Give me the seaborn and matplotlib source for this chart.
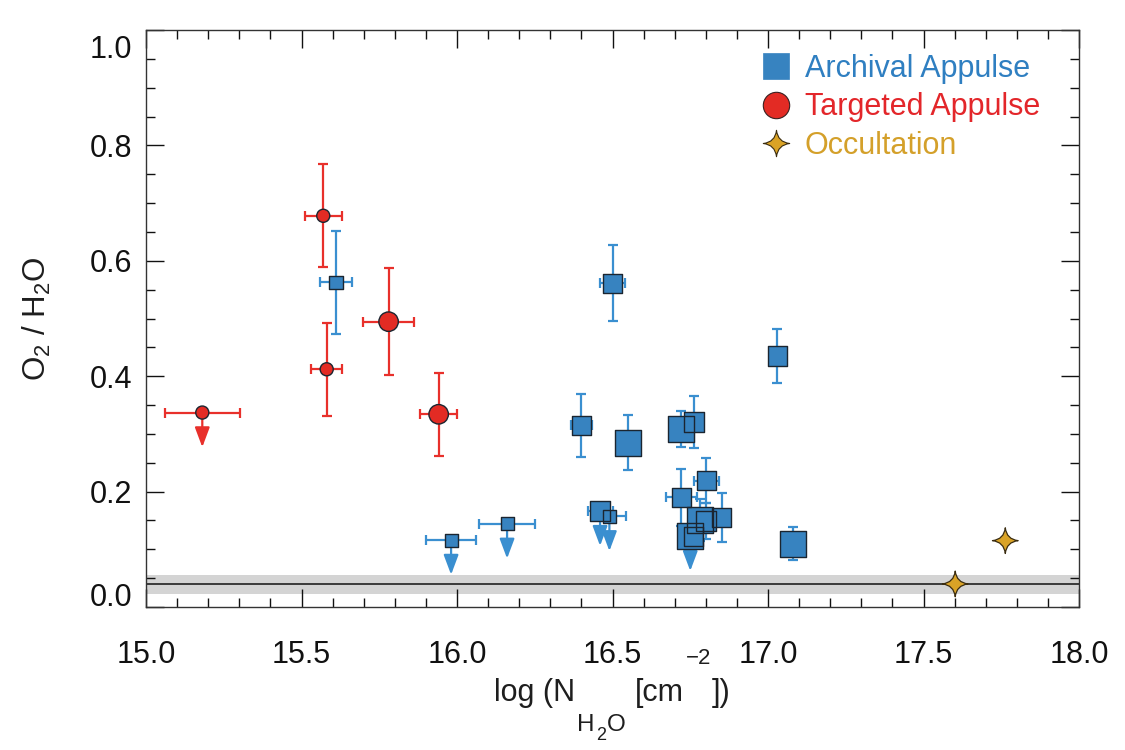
import numpy as np
import pandas as pd
import matplotlib
matplotlib.use("Agg")
import matplotlib.pyplot as plt
import seaborn as sns
from matplotlib.path import Path
from matplotlib.lines import Line2D
from matplotlib.ticker import FixedLocator, MultipleLocator, FormatStrFormatter
import matplotlib.transforms as mtransforms

# ---------------- data ----------------
arch_x = [15.611, 15.981, 16.161, 16.400, 16.460, 16.490, 16.500, 16.550, 16.721, 16.762,
          16.721, 16.802, 16.782, 16.800, 16.851, 16.750, 16.760, 17.030, 17.080]
arch_y = [0.563, 0.116, 0.144, 0.315, 0.166, 0.157, 0.561, 0.285, 0.308, 0.321,
          0.190, 0.219, 0.151, 0.149, 0.155, 0.1225, 0.1225, 0.435, 0.110]
arch_xerr = [0.05, 0.08, 0.09, 0.035, 0.04, 0.055, 0.04, 0.0, 0.0, 0.0,
             0.05, 0.04, 0.0, 0.0, 0.0, 0.0, 0.0, 0.0, 0.0]
arch_yerr = [0.089, 0.0, 0.0, 0.055, 0.0, 0.0, 0.066, 0.048, 0.031, 0.045,
             0.049, 0.039, 0.037, 0.032, 0.043, 0.0, 0.0, 0.047, 0.028]
arch_upper = [False, True, True, False, True, True, False, False, False, False,
              False, False, False, False, False, True, False, False, False]
arch_class = [1, 1, 1, 2, 2, 1, 2, 3, 3, 2, 2, 2, 3, 2, 2, 3, 2, 2, 3]

targ_x = [15.181, 15.570, 15.581, 15.780, 15.941]
targ_y = [0.337, 0.678, 0.412, 0.4945, 0.334]
targ_xerr = [0.12, 0.06, 0.05, 0.081, 0.06]
targ_yerr = [0.0, 0.089, 0.081, 0.093, 0.072]
targ_upper = [True, False, False, False, False]
targ_class = [1, 1, 1, 2, 2]

occ_x = [17.602, 17.763]
occ_y = [0.040, 0.115]
occ_class = [3, 3]

baseline_y = 0.039
baseline_band = (0.022, 0.055)

legend_labels = ["Archival Appulse", "Targeted Appulse", "Occultation"]

# ---------------- style ----------------
sns.set_theme(style="ticks")
plt.rcParams["font.family"] = ["Liberation Sans", "DejaVu Sans"]
plt.rcParams["mathtext.fontset"] = "custom"
plt.rcParams["mathtext.rm"] = "Liberation Sans"
plt.rcParams["mathtext.it"] = "Liberation Sans:italic"
plt.rcParams["mathtext.bf"] = "Liberation Sans:bold"

BLUE_FILL = "#3783c0"
BLUE_ERR = "#3a8fd0"
BLUE_TXT = "#2f7fc1"
RED_FILL = "#e32b24"
RED_ERR = "#e8302b"
RED_TXT = "#e3262a"
GOLD_FILL = "#daa326"
GOLD_TXT = "#d4a02a"
EDGE = "#1b2530"
TXT = "#1e1e1e"

size_map = {1: 9.4 ** 2, 2: 14.0 ** 2, 3: 18.7 ** 2}

# concave four-point star
c = 0.1
star_verts = [(0, 1), (c, c), (1, 0), (c, -c), (0, -1), (-c, -c), (-1, 0), (-c, c), (0, 1), (0, 1)]
star_codes = [Path.MOVETO] + [Path.CURVE3] * 8 + [Path.CLOSEPOLY]
star = Path(star_verts, star_codes)

arch = pd.DataFrame(dict(x=arch_x, y=arch_y, xerr=arch_xerr, yerr=arch_yerr,
                         upper=arch_upper, cls=arch_class))
targ = pd.DataFrame(dict(x=targ_x, y=targ_y, xerr=targ_xerr, yerr=targ_yerr,
                         upper=targ_upper, cls=targ_class))
occ = pd.DataFrame(dict(x=occ_x, y=occ_y, cls=occ_class))

fig = plt.figure(figsize=(11.25, 7.5), dpi=100)
ax = fig.add_axes([146 / 1125, 1 - 607 / 750, (1079 - 146) / 1125, (607 - 30) / 750])

# baseline band and line
ax.axhspan(*baseline_band, color="#d4d4d4", lw=0, zorder=0)
ax.axhline(baseline_y, color="#3a3a3a", lw=1.4, zorder=1)

ARROW_LEN = 0.06


def draw_group(df, fill, errc, marker):
    ax.errorbar(df["x"], df["y"], xerr=df["xerr"], yerr=df["yerr"], fmt="none",
                ecolor=errc, elinewidth=1.6, capsize=3.5, capthick=1.6, zorder=2)
    for _, r in df[df["upper"]].iterrows():
        ax.annotate("", xy=(r["x"], r["y"] - ARROW_LEN), xytext=(r["x"], r["y"]),
                    arrowprops=dict(arrowstyle="-|>,head_length=0.8,head_width=0.3",
                                    mutation_scale=15, color=errc, lw=1.6,
                                    shrinkA=0, shrinkB=0), zorder=2)
    sns.scatterplot(data=df, x="x", y="y", size="cls", sizes=size_map, marker=marker,
                    color=fill, edgecolor="none", linewidth=0, legend=False, ax=ax, zorder=3)
    sns.scatterplot(data=df, x="x", y="y", size="cls", sizes=size_map, marker=marker,
                    color=fill, facecolors="none", edgecolor=EDGE, linewidth=1.0,
                    legend=False, ax=ax, zorder=4)


draw_group(arch, BLUE_FILL, BLUE_ERR, "s")
draw_group(targ, RED_FILL, RED_ERR, "o")
sns.scatterplot(data=occ, x="x", y="y", size="cls", sizes={3: 18.5 ** 2}, marker=star,
                color=GOLD_FILL, edgecolor="#3a2c10", linewidth=0.9, legend=False,
                ax=ax, zorder=4)

# axes
ax.set_xlim(15.0, 18.0)
ax.set_ylim(0.0, 1.0)
ax.xaxis.set_major_locator(MultipleLocator(0.5))
ax.xaxis.set_minor_locator(MultipleLocator(0.1))
ax.yaxis.set_major_locator(FixedLocator([0.0, 0.2, 0.4, 0.6, 0.8, 1.0]))
ax.yaxis.set_minor_locator(MultipleLocator(0.05))
ax.xaxis.set_major_formatter(FormatStrFormatter("%.1f"))
ax.yaxis.set_major_formatter(FormatStrFormatter("%.1f"))
ax.tick_params(which="both", direction="in", top=True, right=True, color="#111111",
               width=1.0, labelsize=22, labelcolor="#111111")
ax.tick_params(which="major", length=13)
ax.tick_params(which="minor", length=6.5)
ax.tick_params(axis="x", which="major", pad=24)
ax.tick_params(axis="y", which="major", pad=10)
for s in ax.spines.values():
    s.set_color("#333333")
    s.set_linewidth(1.0)

ax.set_xlabel("")
ax.set_ylabel(r"O$_2$ / H$_2$O", fontsize=22.5, color=TXT, labelpad=26)

fig.canvas.draw()
for lab in ax.get_yticklabels():
    t = lab.get_text()
    if t == "0.0":
        lab.set_transform(lab.get_transform() +
                          mtransforms.ScaledTranslation(0, 12 / 100, fig.dpi_scale_trans))
    if t == "1.0":
        lab.set_transform(lab.get_transform() +
                          mtransforms.ScaledTranslation(0, -17 / 100, fig.dpi_scale_trans))

# x-axis label built from pieces (large, low subscripts as in the original)
renderer = fig.canvas.get_renderer()
MAIN, SUB, SUBSUB, SUP = 22, 17.5, 13, 16
BASE = 701  # baseline in figure pixels from top
pieces = [("log (N", MAIN, 0, 0), ("H", SUB, 30, 2), ("2", SUBSUB, 39, 1),
          ("O", SUB, 30, 1), ("[cm", MAIN, 0, 9), ("\u22122", SUP, -37, 2),
          ("])", MAIN, 0, 1)]
objs = []
for s, fs, dy, gap in pieces:
    objs.append(fig.text(0, 0, s, fontsize=fs, color=TXT, ha="left", va="baseline",
                         transform=fig.dpi_scale_trans))
widths = [o.get_window_extent(renderer).width for o in objs]
total = sum(widths) + sum(p[3] for p in pieces)
xc = (146 + 1079) / 2
xpos = xc - total / 2
for o, w, (s, fs, dy, gap) in zip(objs, widths, pieces):
    xpos += gap
    o.set_position((xpos / 100, (750 - (BASE + dy)) / 100))
    xpos += w

# legend
handles = [
    Line2D([], [], ls="none", marker="s", markersize=19, markerfacecolor=BLUE_FILL,
           markeredgecolor=BLUE_FILL, markeredgewidth=0.5),
    Line2D([], [], ls="none", marker="o", markersize=19, markerfacecolor=RED_FILL,
           markeredgecolor="#3a2020", markeredgewidth=0.8),
    Line2D([], [], ls="none", marker=star, markersize=19, markerfacecolor=GOLD_FILL,
           markeredgecolor="#3a2c10", markeredgewidth=0.8),
]
leg = ax.legend(handles, legend_labels, loc="upper left",
                bbox_to_anchor=(759 / 1125, 1 - 54 / 750), bbox_transform=fig.transFigure,
                frameon=False, fontsize=22, handlelength=1.1, handletextpad=0.4,
                labelspacing=0.27, borderpad=0, borderaxespad=0,
                labelcolor=[BLUE_TXT, RED_TXT, GOLD_TXT])

fig.savefig("out.png", dpi=100)
